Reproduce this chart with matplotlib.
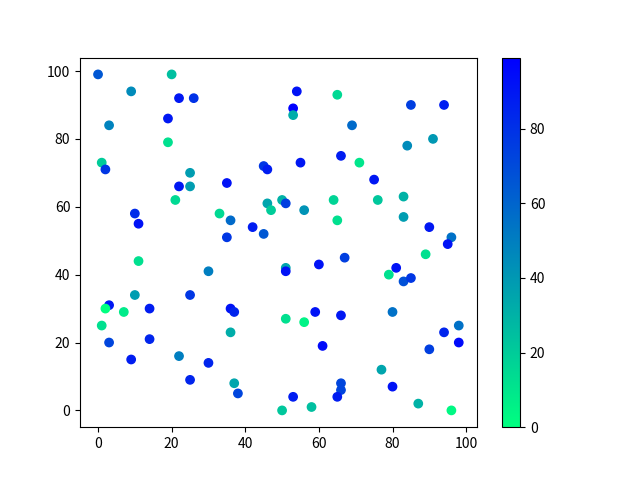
import matplotlib
matplotlib.use("Agg")
import matplotlib.pyplot as plt

plt.rcParams['font.family'] = ['Noto Sans CJK SC', 'DejaVu Sans']

# --- Data ---
x = [0, 20, 9, 22, 26, 19, 3, 19, 1, 2, 25, 22, 25, 35, 45, 46,
     54, 65, 53, 53, 85, 94, 69, 91, 84, 55, 66, 71, 75,
     21, 10, 11, 33, 36, 35, 42, 45, 46, 47, 11, 30, 10, 25, 3, 2, 7, 14, 36, 37,
     50, 51, 56, 64, 65, 76, 83, 83, 90, 96, 95, 89, 51, 51, 60, 67, 81, 79, 83, 85,
     59, 66, 80, 51, 56,
     1, 3, 14, 9, 22, 30, 25, 36, 37, 38, 50,
     61, 77, 80, 66, 66, 65, 53, 58, 87, 96, 94, 98, 98, 90]
y = [99, 99, 94, 92, 92, 86, 84, 79, 73, 71, 70, 66, 66, 67, 72, 71,
     94, 93, 89, 87, 90, 90, 84, 80, 78, 73, 75, 73, 68,
     62, 58, 55, 58, 56, 51, 54, 52, 61, 59, 44, 41, 34, 34, 31, 30, 29, 30, 30, 29,
     62, 61, 59, 62, 56, 62, 63, 57, 54, 51, 49, 46, 42, 41, 43, 45, 42, 40, 38, 39,
     29, 28, 29, 27, 26,
     25, 20, 21, 15, 16, 14, 9, 23, 8, 5, 0,
     19, 12, 7, 8, 6, 4, 4, 1, 2, 0, 23, 25, 20, 18]
c = [65, 25, 45, 90, 80, 90, 48, 12, 20, 78, 38, 90, 38, 92, 78, 88,
     92, 15, 99, 32, 75, 88, 58, 40, 45, 90, 88, 10, 90,
     15, 82, 92, 15, 58, 78, 88, 65, 35, 20, 12, 50, 38, 78, 90, 0, 8, 88, 92, 85,
     30, 75, 42, 17, 12, 22, 30, 38, 90, 55, 92, 12, 35, 92, 92, 75, 92, 12, 68, 78,
     92, 90, 55, 12, 5,
     12, 72, 85, 88, 50, 85, 85, 32, 35, 72, 22,
     95, 35, 92, 72, 72, 88, 88, 25, 30, 3, 85, 55, 95, 75]

fig, ax = plt.subplots(figsize=(6.4, 4.8), dpi=100)
sc = ax.scatter(x, y, c=c, cmap="winter_r")
fig.colorbar(sc)

fig.savefig("out.png", dpi=100)
